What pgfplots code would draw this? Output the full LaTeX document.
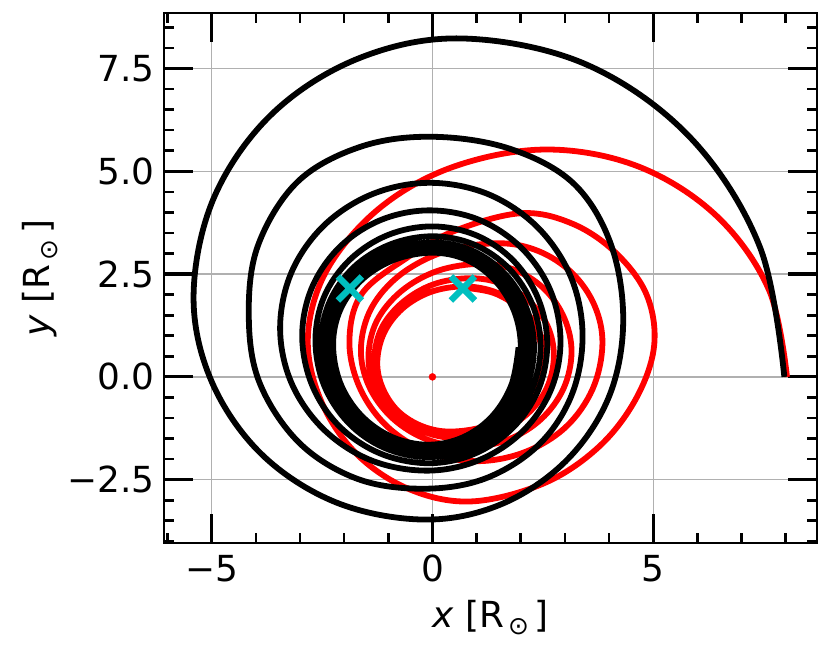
\documentclass[border=0pt]{standalone}
\usepackage{fontspec}
\setmainfont{DejaVu Sans}
\usepackage{pgfplots}
\pgfplotsset{compat=1.18}
\definecolor{gridgray}{RGB}{176,176,176}
\definecolor{mplcyan}{rgb}{0,0.75,0.75}
\newcommand{\bigfont}{\fontsize{36}{40}\selectfont}
\newcommand{\sunsub}{\raisebox{-0.2em}{\fontsize{25}{25}\selectfont\,⊙}\,}
\begin{document}
\begin{tikzpicture}
\path[use as bounding box] (0,0) rectangle (831bp,649bp);
\begin{axis}[
  at={(164bp,106bp)}, anchor=south west,
  scale only axis, width=653bp, height=530bp,
  xmin=-6.08, xmax=8.71, ymin=-4.04, ymax=8.85,
  xtick={-5,0,5}, xticklabels={−5,0,5},
  ytick={-2.5,0,2.5,5,7.5}, yticklabels={−2.5,0.0,2.5,5.0,7.5},
  minor xtick={-6,-4,-3,-2,-1,1,2,3,4,6,7,8},
  minor ytick={-4,-3.5,-3,-2,-1.5,-1,-0.5,0.5,1,1.5,2,3,3.5,4,4.5,5.5,6,6.5,7,8,8.5},
  tick align=inside,
  major tick length=29bp, minor tick length=10bp,
  major tick style={line width=3.2bp, black},
  minor tick style={line width=2.6bp, black},
  axis line style={line width=2.4bp},
  grid=major,
  major grid style={line width=1.4bp, gridgray},
  tick label style={font=\bigfont},
  xticklabel style={inner sep=0pt, yshift=-12bp},
  yticklabel style={inner sep=0pt, xshift=-9bp},
  every axis x label/.style={at={(axis description cs:0.5,-0.1585)}, anchor=base, font=\bigfont},
  every axis y label/.style={at={(axis description cs:-0.1746,0.5)}, rotate=90, anchor=base, font=\bigfont},
  xlabel={\textit{x} [R\sunsub]},
  ylabel={\textit{y} [R\sunsub]},
]
% red orbit
\addplot[red, line width=5.8bp, mark=none, smooth, tension=0.6, line join=round] coordinates {
(8.03,0.00) (7.62,2.12) (6.44,3.91) (4.68,5.11) (2.60,5.53)
(0.50,5.12) (-1.18,4.12) (-2.38,2.62) (-2.82,1.00)
(-2.54,-0.54) (-1.74,-1.85) (-0.55,-2.72) (0.86,-3.03)
(2.50,-2.60) (3.75,-1.72) (4.60,-0.55) (5.02,0.75)
(4.85,2.00) (4.14,3.03) (3.16,3.73) (2.00,3.98)
(0.50,3.55) (-0.60,2.88) (-1.60,2.02) (-1.88,0.90)
(-1.66,-0.23) (-1.04,-1.19) (-0.10,-1.83) (1.00,-2.05)
(2.09,-1.83) (3.02,-1.22) (3.63,-0.29) (3.85,0.80)
(3.67,1.74) (3.16,2.53) (2.40,3.06) (1.50,3.25)
(0.31,3.06) (-0.71,2.50) (-1.38,1.68) (-1.62,0.70)
(-1.44,-0.22) (-0.91,-1.00) (-0.13,-1.52) (0.80,-1.70)
(1.70,-1.53) (2.46,-1.03) (2.97,-0.28) (3.15,0.60)
(2.99,1.42) (2.55,2.12) (1.89,2.59) (1.10,2.75)
(0.12,2.58) (-0.70,2.09) (-1.26,1.36) (-1.45,0.50)
(-1.29,-0.27) (-0.84,-0.91) (-0.15,-1.35) (0.65,-1.50)
(1.45,-1.35) (2.14,-0.91) (2.59,-0.27) (2.75,0.50)
(2.61,1.23) (2.19,1.84) (1.58,2.26) (0.85,2.40)
(0.02,2.25) (-0.68,1.81) (-1.16,1.17) (-1.32,0.40)
(-1.19,-0.28) (-0.80,-0.86) (-0.23,-1.24) (0.45,-1.38)
(1.25,-1.24) (1.94,-0.84) (2.39,-0.25) (2.55,0.45)
(2.41,1.12) (2.01,1.69) (1.41,2.07) (0.70,2.20)
(-0.05,2.06) (-0.68,1.66) (-1.10,1.06) (-1.25,0.35)
(-1.12,-0.29) (-0.77,-0.84) (-0.23,-1.20) (0.40,-1.33)
(1.20,-1.20) (1.89,-0.82) (2.34,-0.25) (2.50,0.42)
(2.36,1.09) (1.97,1.66) (1.39,2.04) (0.70,2.17)
};
% black orbit
\addplot[black, line width=5.8bp, mark=none, smooth, tension=0.6, line join=round] coordinates {
(7.97,0.00) (7.42,3.15) (5.84,5.82) (3.48,7.60) (0.70,8.23)
(-1.64,7.76) (-3.62,6.41) (-4.94,4.38) (-5.41,2.00)
(-5.01,-0.09) (-3.88,-1.87) (-2.19,-3.05) (-0.20,-3.47)
(1.53,-3.11) (3.00,-2.07) (3.98,-0.53) (4.32,1.30)
(4.05,3.20) (3.20,4.70) (1.75,5.55) (0.00,5.84)
(-1.62,5.60) (-3.05,4.75) (-3.95,3.20) (-4.16,1.50)
(-3.92,-0.13) (-3.02,-1.60) (-1.70,-2.48) (-0.20,-2.72)
(1.20,-2.47) (2.40,-1.66) (3.15,-0.45) (3.40,1.00)
(3.14,2.42) (2.39,3.63) (1.27,4.44) (-0.05,4.72)
(-1.35,4.45) (-2.45,3.69) (-3.19,2.55) (-3.45,1.20)
(-3.20,-0.13) (-2.48,-1.26) (-1.41,-2.02) (-0.15,-2.28)
(1.02,-2.04) (2.01,-1.36) (2.67,-0.35) (2.90,0.85)
(2.68,2.08) (2.04,3.11) (1.08,3.81) (-0.05,4.05)
(-1.16,3.82) (-2.10,3.16) (-2.73,2.17) (-2.95,1.00)
(-2.73,-0.19) (-2.12,-1.19) (-1.19,-1.86) (-0.10,-2.10)
(0.93,-1.88) (1.81,-1.25) (2.40,-0.31) (2.60,0.80)
(2.40,1.89) (1.84,2.82) (1.00,3.44) (0.00,3.66)
(-1.01,3.45) (-1.87,2.85) (-2.45,1.96) (-2.65,0.90)
(-2.46,-0.19) (-1.90,-1.12) (-1.08,-1.73) (-0.10,-1.95)
(0.88,-1.75) (1.70,-1.16) (2.26,-0.28) (2.45,0.75)
(2.26,1.77) (1.73,2.64) (0.94,3.22) (0.00,3.42)
(-0.96,3.22) (-1.78,2.67) (-2.33,1.83) (-2.52,0.85)
(-2.34,-0.19) (-1.81,-1.07) (-1.03,-1.65) (-0.10,-1.86)
(0.82,-1.66) (1.60,-1.10) (2.12,-0.27) (2.30,0.72)
(2.12,1.70) (1.63,2.52) (0.88,3.08) (0.00,3.27)
(-0.94,3.08) (-1.73,2.55) (-2.26,1.75) (-2.45,0.80)
(-2.27,-0.20) (-1.76,-1.04) (-1.00,-1.60) (-0.10,-1.80)
(0.78,-1.61) (1.53,-1.06) (2.03,-0.24) (2.20,0.72)
(2.03,1.66) (1.56,2.45) (0.84,2.98) (0.00,3.17)
(-0.91,2.99) (-1.68,2.48) (-2.20,1.71) (-2.38,0.80)
(-2.21,-0.17) (-1.71,-1.00) (-0.97,-1.55) (-0.10,-1.74)
(0.74,-1.55) (1.46,-1.02) (1.93,-0.22) (2.10,0.72)
(1.94,1.62) (1.48,2.39) (0.80,2.90) (0.00,3.08)
(-0.88,2.91) (-1.63,2.41) (-2.12,1.67) (-2.30,0.80)
(-2.13,-0.15) (-1.66,-0.95) (-0.94,-1.49) (-0.10,-1.68)
(0.70,-1.50) (1.39,-0.98) (1.84,-0.20) (2.00,0.72)
(1.85,1.60) (1.41,2.35) (0.77,2.85) (0.00,3.02)
(-0.86,2.85) (-1.59,2.37) (-2.08,1.65) (-2.25,0.80)
(-2.09,-0.14) (-1.62,-0.93) (-0.92,-1.46) (-0.10,-1.65)
(0.69,-1.47) (1.35,-0.96) (1.79,-0.19) (1.95,0.72)
};
% centre of mass
\addplot[only marks, mark=*, mark size=3.5bp, red, mark options={draw=red, fill=red}] coordinates {(0,0)};
% current positions
\addplot[only marks, mark=x, mark size=17bp, mplcyan, mark options={line width=6.5bp, draw=mplcyan}] coordinates {(-1.87,2.15) (0.69,2.15)};
\end{axis}
\end{tikzpicture}
\end{document}
